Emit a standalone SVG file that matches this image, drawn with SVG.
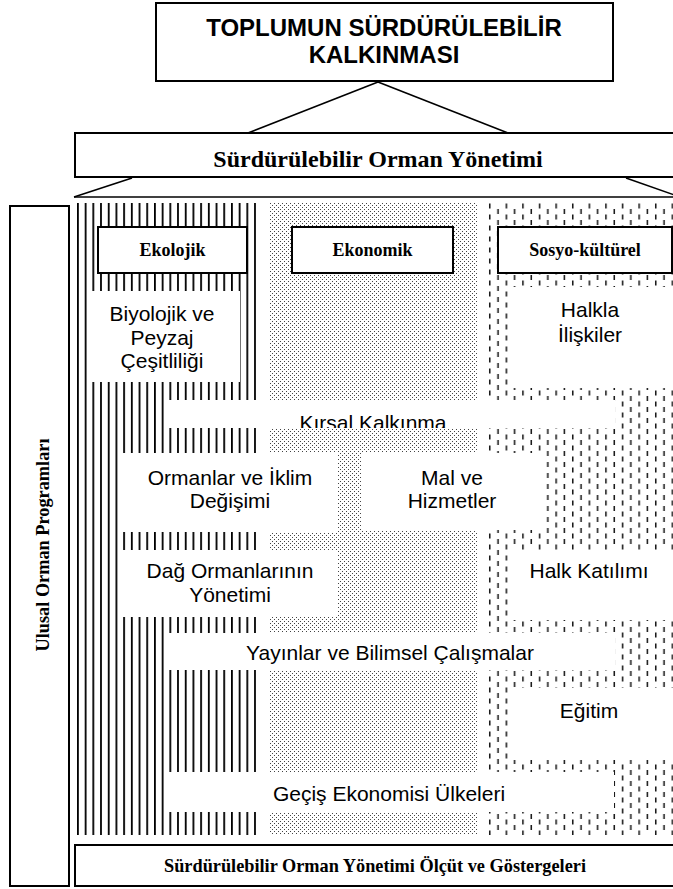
<svg xmlns="http://www.w3.org/2000/svg" width="673" height="889" viewBox="0 0 673 889">
<style>
.box{fill:#fff;stroke:#000;stroke-width:2}
.wb{fill:#fff;stroke:none}
.ln{stroke:#000;stroke-width:1.6;fill:none}
.ta{font-family:"Liberation Sans",Arial,sans-serif;font-size:21px;fill:#000;text-anchor:middle}
.tab{font-family:"Liberation Sans",Arial,sans-serif;font-size:24px;font-weight:bold;fill:#000;text-anchor:middle}
.tt{font-family:"Liberation Serif","Times New Roman",serif;font-weight:bold;fill:#000;text-anchor:middle}
</style>
<defs>
<pattern id="stripes" patternUnits="userSpaceOnUse" x="77" y="0" width="7.7" height="10">
<rect x="0" y="0" width="1.8" height="10" fill="#000"/>
</pattern>
<pattern id="dots" patternUnits="userSpaceOnUse" x="270" y="203" width="4" height="4">
<rect x="0" y="0" width="1" height="1" fill="#444"/>
<rect x="2" y="2" width="1" height="1" fill="#444"/>
</pattern>
<pattern id="dashes" patternUnits="userSpaceOnUse" x="488" y="203" width="16.6" height="11">
<rect x="1" y="0.5" width="1.5" height="5" fill="#111"/>
<rect x="9.3" y="6" width="1.5" height="5" fill="#111"/>
</pattern>
<clipPath id="kclip"><rect x="165" y="400" width="450" height="28"/></clipPath>
</defs>
<rect width="673" height="889" fill="#fff"/>

<g id="connectors">
<line class="ln" x1="378" y1="82" x2="248" y2="133"/>
<line class="ln" x1="378" y1="82" x2="508" y2="133"/>
<line class="ln" x1="132" y1="178" x2="74" y2="197"/>
<line class="ln" x1="626" y1="178" x2="683" y2="198"/>
<line class="ln" x1="74" y1="197" x2="673" y2="197"/>
</g>

<g id="top">
<rect class="box" x="156" y="3" width="457" height="78"/>
<text class="tab" x="384" y="36">TOPLUMUN SÜRDÜRÜLEBİLİR</text>
<text class="tab" x="384" y="63">KALKINMASI</text>
</g>

<g id="som">
<rect class="box" x="75" y="133" width="610" height="44"/>
<text class="tt" x="378" y="167" font-size="24">Sürdürülebilir Orman Yönetimi</text>
</g>

<g id="columns">
<rect x="77" y="203" width="180" height="632" fill="url(#stripes)"/>
<rect x="270" y="203" width="207" height="632" fill="url(#dots)"/>
<rect x="488" y="203" width="185" height="632" fill="url(#dashes)"/>
</g>

<g id="ekolojik">
<rect class="box" x="98" y="227" width="149" height="46"/>
<text class="tt" x="172.5" y="256" font-size="18">Ekolojik</text>
</g>
<g id="ekonomik">
<rect class="box" x="292" y="227" width="161" height="46"/>
<text class="tt" x="372.5" y="256" font-size="18">Ekonomik</text>
</g>
<g id="sosyo">
<rect class="box" x="498" y="227" width="174" height="46"/>
<text class="tt" x="585" y="256" font-size="18">Sosyo-kültürel</text>
</g>

<g id="biyolojik">
<rect class="wb" x="88" y="291" width="152" height="91"/>
<text class="ta" x="162" y="321">Biyolojik ve</text>
<text class="ta" x="162" y="345">Peyzaj</text>
<text class="ta" x="162" y="368">Çeşitliliği</text>
</g>
<g id="halkla">
<rect class="wb" x="510" y="287" width="163" height="101"/>
<text class="ta" x="590" y="317">Halkla</text>
<text class="ta" x="590" y="342">İlişkiler</text>
</g>
<g id="kirsal">
<rect class="wb" x="165" y="400" width="450" height="28"/>
<text class="ta" x="373" y="430" clip-path="url(#kclip)">Kırsal Kalkınma</text>
</g>
<g id="ormanlar">
<rect class="wb" x="120" y="453" width="218" height="79"/>
<text class="ta" x="230" y="485">Ormanlar ve İklim</text>
<text class="ta" x="230" y="508">Değişimi</text>
</g>
<g id="mal">
<rect class="wb" x="362" y="453" width="183" height="77"/>
<text class="ta" x="452" y="485">Mal ve</text>
<text class="ta" x="452" y="508">Hizmetler</text>
</g>
<g id="dag">
<rect class="wb" x="120" y="550" width="218" height="67"/>
<text class="ta" x="230" y="578">Dağ Ormanlarının</text>
<text class="ta" x="230" y="602">Yönetimi</text>
</g>
<g id="halk">
<rect class="wb" x="510" y="550" width="163" height="70"/>
<text class="ta" x="589" y="578">Halk Katılımı</text>
</g>
<g id="yayinlar">
<rect class="wb" x="165" y="633" width="450" height="37"/>
<text class="ta" x="390" y="660">Yayınlar ve Bilimsel Çalışmalar</text>
</g>
<g id="egitim">
<rect class="wb" x="510" y="688" width="163" height="72"/>
<text class="ta" x="589" y="718">Eğitim</text>
</g>
<g id="gecis">
<rect class="wb" x="166" y="772" width="448" height="40"/>
<text class="ta" x="389" y="801">Geçiş Ekonomisi Ülkeleri</text>
</g>

<g id="ulusal">
<rect class="box" x="10" y="206" width="59" height="680"/>
<text class="tt" font-size="18.3" transform="translate(49,545) rotate(-90)" x="0" y="0">Ulusal Orman  Programları</text>
</g>

<g id="olcut">
<rect class="box" x="75" y="845" width="610" height="41"/>
<text class="tt" x="375" y="872" font-size="18.3">Sürdürülebilir Orman Yönetimi Ölçüt ve Göstergeleri</text>
</g>
</svg>
